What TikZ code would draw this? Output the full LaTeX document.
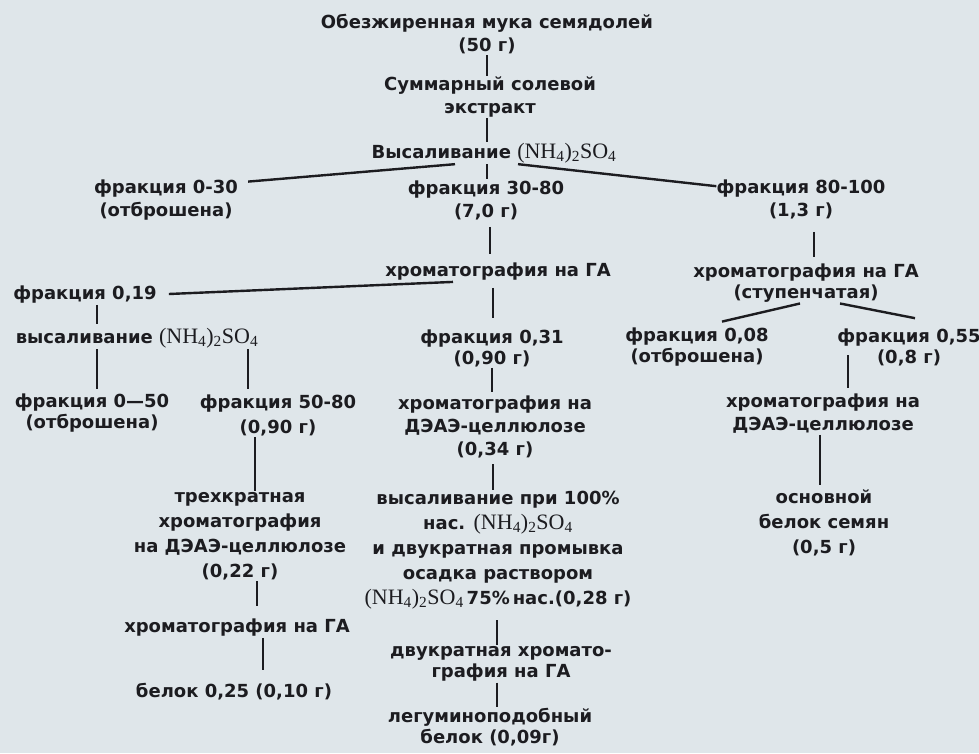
\documentclass[tikz,border=0pt]{standalone}
\usepackage{fontspec}
\setmainfont{DejaVu Sans}
\newfontfamily\chemfont{Liberation Serif}
\definecolor{paper}{RGB}{223,230,234}
\definecolor{ink}{RGB}{28,28,32}
\newcommand{\amsulf}{{\chemfont\mdseries\fontsize{22}{23}\selectfont(NH\textsubscript{4})\textsubscript{2}SO\textsubscript{4}}}

\begin{document}
\begin{tikzpicture}[x=1pt, y=-1pt,
    every node/.style={text=ink, align=center, inner sep=1pt,
      font=\bfseries\fontsize{18}{23}\selectfont},
    tight/.style={font=\bfseries\fontsize{18}{21}\selectfont},
    wide/.style={font=\bfseries\fontsize{18}{25}\selectfont},
    link/.style={draw=ink, line width=2.4pt}]
    \fill [paper] (0, 0) rectangle (979, 753);
    \useasboundingbox (0, 0) rectangle (979, 753);
    % starting material
    \node  (0) at (487, 34) {Обезжиренная мука семядолей\\(50 г)};
    \node  (1) at (490, 97) {Суммарный солевой\\экстракт};
    \node  (2) at (494, 153) {Высаливание \amsulf};
    % first salting-out
    \node  (3) at (166, 200) {фракция 0-30\\(отброшена)};
    \node  (4) at (486, 200) {фракция 30-80\\(7,0 г)};
    \node  (5) at (801, 199) {фракция 80-100\\(1,3 г)};
    % HA columns
    \node  (6) at (498, 272) {хроматография на ГА};
    \node [tight] (7) at (806, 283) {хроматография на ГА\\(ступенчатая)};
    \node  (8) at (85, 295) {фракция 0,19};
    \node  (9) at (137, 338) {высаливание \amsulf};
    \node [tight] (10) at (492, 348) {фракция 0,31\\(0,90 г)};
    \node [tight] (11) at (697, 347) {фракция 0,08\\(отброшена)};
    \node [tight] (12) at (909, 347) {фракция 0,55\\(0,8 г)};
    % second salting-out and DEAE
    \node [tight] (13) at (92, 413) {фракция 0—50\\(отброшена)};
    \node [wide] (14) at (278, 415) {фракция 50-80\\(0,90 г)};
    \node  (15) at (495, 427) {хроматография на\\ДЭАЭ-целлюлозе\\(0,34 г)};
    \node  (16) at (823, 414) {хроматография на\\ДЭАЭ-целлюлозе};
    \node [wide] (17) at (240, 536) {трехкратная\\хроматография\\на ДЭАЭ-целлюлозе\\(0,22 г)};
    \node [wide] (18) at (498, 550) {высаливание при 100\%\\нас. \amsulf\\и двукратная промывка\\осадка раствором\\\amsulf\,75\%\,нас.(0,28 г)};
    \node [wide] (19) at (824, 523) {основной\\белок семян\\(0,5 г)};
    % final steps
    \node  (20) at (237, 628) {хроматография на ГА};
    \node  (21) at (234, 692) {белок 0,25 (0,10 г)};
    \node [tight] (22) at (501, 664) {двукратная хромато-\\графия на ГА};
    \node [tight] (23) at (490, 727) {легуминоподобный\\белок (0,09г)};
    % vertical links
    \draw [link] (0.south -| 487,0) to (1.north -| 487,0);
    \draw [link] (1.south -| 487,0) to (2.north -| 487,0);
    \draw [link] (2.south -| 487,0) to (4.north -| 487,0);
    \draw [link, shorten <=6, shorten >=8] (4.south -| 490,0) to (6.north -| 490,0);
    \draw [link, shorten <=12, shorten >=6] (5.south -| 814,0) to (7.north -| 814,0);
    \draw [link, shorten <=6, shorten >=10] (6.south -| 493,0) to (10.north -| 493,0);
    \draw [link, shorten >=3] (8.south -| 97,0) to (9.north -| 97,0);
    \draw [link, shorten >=4] (9.south -| 97,0) to (13.north -| 97,0);
    \draw [link, shorten >=4] (9.south -| 248,0) to (14.north -| 248,0);
    \draw [link, shorten >=3] (10.south -| 492,0) to (15.north -| 492,0);
    \draw [link, shorten <=8, shorten >=5] (12.center -| 848,0) to (16.north -| 848,0);
    \draw [link, shorten >=4] (16.south -| 820,0) to (19.north -| 820,0);
    \draw [link] (14.south -| 255,0) to (17.north -| 255,0);
    \draw [link, shorten <=5] (15.south -| 493,0) to (18.north -| 493,0);
    \draw [link, shorten >=12] (17.south -| 257,0) to (20.north -| 257,0);
    \draw [link, shorten >=12] (20.south -| 263,0) to (21.north -| 263,0);
    \draw [link, shorten <=10] (18.south -| 497,0) to (22.north -| 497,0);
    \draw [link] (22.south -| 497,0) to (23.north -| 497,0);
    % branches
    \draw [link] (2.south -| 455,0) to ([shift={(9,3)}]3.north east);
    \draw [link] (2.south -| 518,0) to ([shift={(1,8)}]5.north west);
    \draw [link] (6.south -| 453,0) to ([shift={(11,-1)}]8.east);
    \draw [link] (7.south -| 800,0) to ([shift={(25,-5)}]11.north);
    \draw [link] (7.south -| 840,0) to ([shift={(6,-9)}]12.north);
\end{tikzpicture}
\end{document}
